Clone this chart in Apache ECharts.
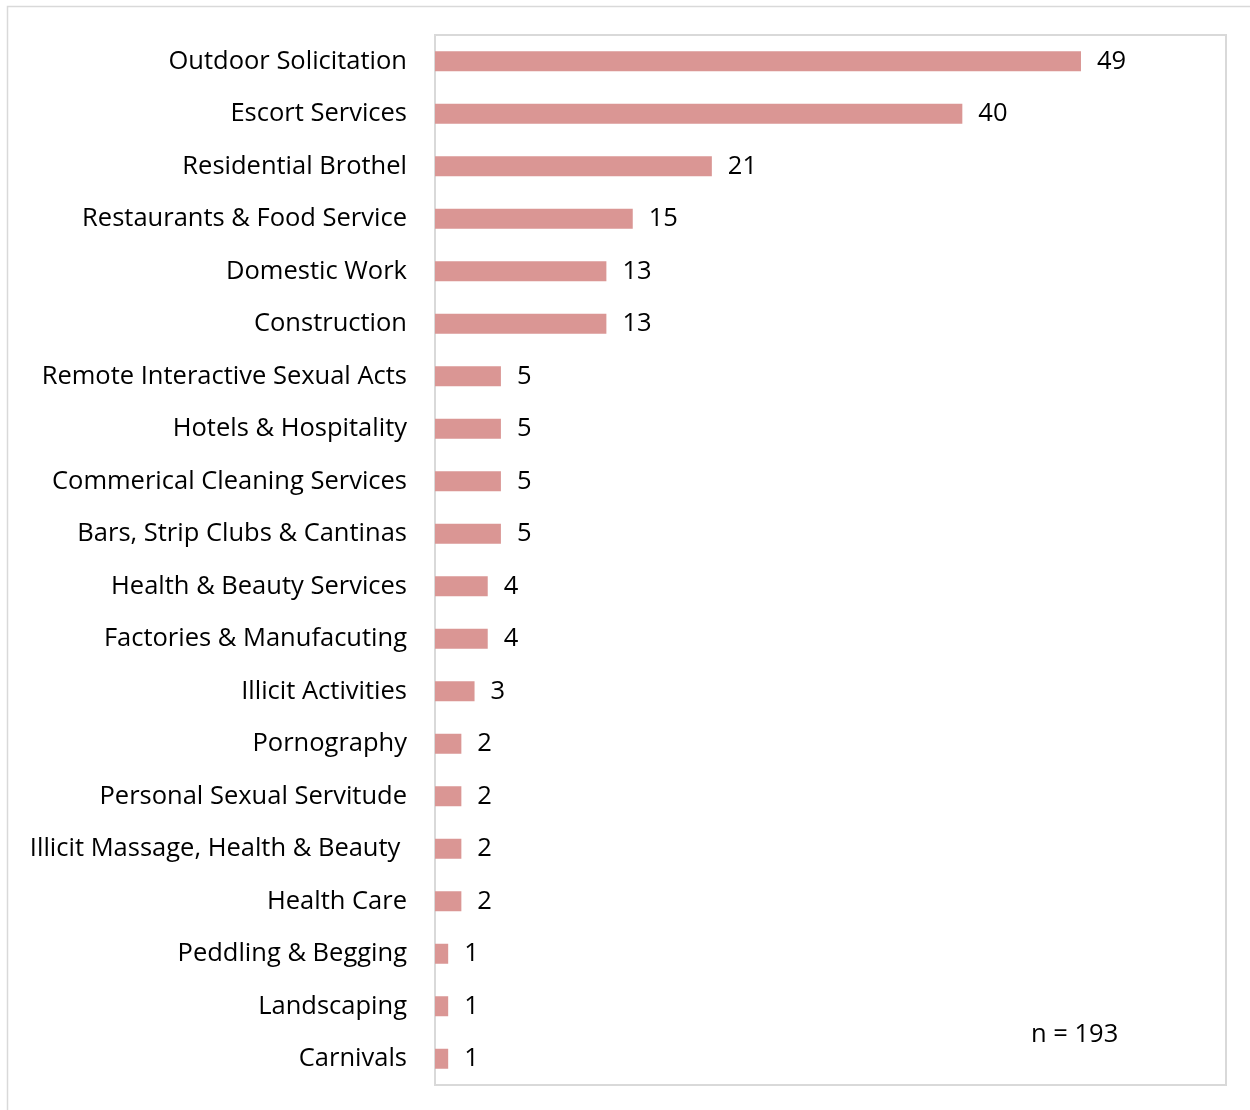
<!DOCTYPE html>
<html>
<head>
<meta charset="utf-8">
<style>
    html, body { margin: 0; padding: 0; background: #fff; }
    #chart { width: 1250px; height: 1110px; }
</style>
<script src="https://cdn.jsdelivr.net/npm/echarts@6/dist/echarts.min.js"></script>
</head>
<body>
<div id="chart"></div>
<script>
// categories top to bottom
const categories = [
    'Outdoor Solicitation',
    'Escort Services',
    'Residential Brothel',
    'Restaurants & Food Service',
    'Domestic Work',
    'Construction',
    'Remote Interactive Sexual Acts',
    'Hotels & Hospitality',
    'Commerical Cleaning Services',
    'Bars, Strip Clubs & Cantinas',
    'Health & Beauty Services',
    'Factories & Manufacuting',
    'Illicit Activities',
    'Pornography',
    'Personal Sexual Servitude',
    'Illicit Massage, Health & Beauty ',
    'Health Care',
    'Peddling & Begging',
    'Landscaping',
    'Carnivals'
];
const counts = [49, 40, 21, 15, 13, 13, 5, 5, 5, 5, 4, 4, 3, 2, 2, 2, 2, 1, 1, 1];
const totalNote = 'n = 193';

const font = '"Open Sans", "Noto Sans", sans-serif';
const fs = 25.5;
let myChart = echarts.init(document.getElementById('chart'));
myChart.setOption({
    animation: false,
    textStyle: { fontFamily: font },
    grid: {
        left: 435, right: 24, top: 35, bottom: 25,
        show: true, borderColor: '#d9d9d9', borderWidth: 2,
        containLabel: false
    },
    xAxis: {
        type: 'value', min: 0, max: 60,
        show: false
    },
    yAxis: {
        type: 'category',
        data: categories,
        inverse: true,
        axisLine: { show: false },
        axisTick: { show: false },
        axisLabel: {
            margin: 28,
            fontSize: fs,
            color: '#000',
            fontFamily: font,
            padding: [5, 0, 0, 0]
        }
    },
    series: [{
        type: 'bar',
        data: counts,
        barWidth: 20,
        itemStyle: { color: '#da9694' },
        label: {
            show: true,
            position: 'right',
            distance: 16,
            fontSize: fs,
            color: '#000',
            fontFamily: font,
            padding: [8, 0, 0, 0]
        }
    }],
    graphic: [
        {
            type: 'rect',
            shape: { x: 7.5, y: 6.5, width: 1260, height: 1120 },
            style: { fill: 'none', stroke: '#d9d9d9', lineWidth: 1.5 },
            silent: true
        },
        {
            type: 'text',
            left: 1031, top: 1022,
            style: { text: totalNote, fontSize: fs, fill: '#000', fontFamily: font }
        }
    ]
});
</script>
</body>
</html>
